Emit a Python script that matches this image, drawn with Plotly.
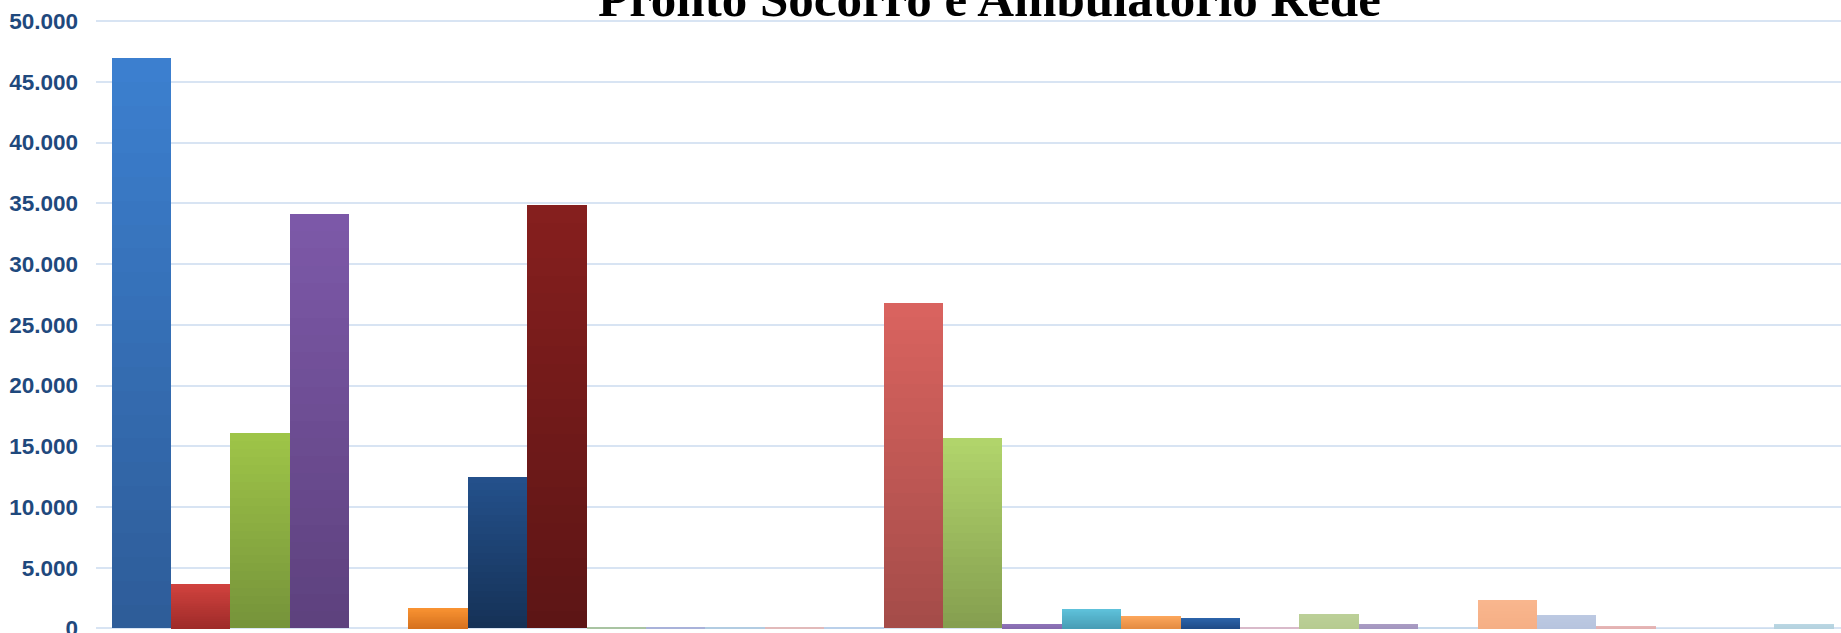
import plotly.graph_objects as go

# ---------------- data ----------------
series_names = [
    "Série 1", "Série 2", "Série 3", "Série 4", "Série 5", "Série 6", "Série 7",
    "Série 8", "Série 9", "Série 10", "Série 11", "Série 12", "Série 13", "Série 14",
    "Série 15", "Série 16", "Série 17", "Série 18", "Série 19", "Série 20", "Série 21",
    "Série 22", "Série 23", "Série 24", "Série 25", "Série 26", "Série 27", "Série 28",
    "Série 29",
]
series_values = [
    46950, 3650, 16100, 34130, 0, 1670, 12480, 34850, 60, 60,
    60, 60, 60, 26790, 15670, 350, 1590, 1010, 850, 40,
    1180, 350, 40, 2330, 1090, 190, 30, 30, 350,
]
y_tick_values = [0, 5000, 10000, 15000, 20000, 25000, 30000, 35000, 40000, 45000, 50000]
title_text = "Pronto Socorro e Ambulatório Rede"

# ---------------- styles ----------------
top_colors = [
    "#3C80D0", "#D1423E", "#9FC548", "#7D59A9", "#4BACC6", "#F99332", "#24518C",
    "#861F1E", "#A9C4A2", "#A9B2DA", "#B2CCE2", "#E2BABA", "#BAD0EA", "#DA635F",
    "#B2D56C", "#8F74B9", "#5EC2DB", "#FDA75C", "#2C63AA", "#D9BACA", "#BCD098",
    "#AA9CC4", "#C6DAEC", "#F9B68E", "#BCC9E2", "#E6B7B7", "#CDDDEE", "#CDDDEE",
    "#BAD7E3",
]
bottom_colors = [
    "#2E5C98", "#9E2B29", "#75933A", "#5D417D", "#3D8AA0", "#D6711E", "#153156",
    "#5C1515", "#A9C4A2", "#A9B2DA", "#B2CCE2", "#E2BABA", "#BAD0EA", "#A44C49",
    "#849E4F", "#856BAE", "#489DB5", "#E58C42", "#1F4C88", "#D9BACA", "#B6CB90",
    "#A396BF", "#C6DAEC", "#F5AF85", "#B7C4DE", "#E3B2B2", "#CDDDEE", "#CDDDEE",
    "#B5D2DF",
]


def hex_to_rgb(h):
    h = h.lstrip("#")
    return tuple(int(h[i:i + 2], 16) for i in (0, 2, 4))


def mix(c1, c2, t):
    a, b = hex_to_rgb(c1), hex_to_rgb(c2)
    return "rgb(%d,%d,%d)" % tuple(round(a[i] + (b[i] - a[i]) * t) for i in range(3))


fig = go.Figure()
x_pos = list(range(len(series_values)))
N_BANDS = 24
for k in range(N_BANDS):
    frac = 1 - k / N_BANDS
    t = (k + 0.5) / N_BANDS
    colors = [mix(tc, bc, t) for tc, bc in zip(top_colors, bottom_colors)]
    fig.add_trace(go.Bar(
        x=x_pos,
        y=[v * frac for v in series_values],
        width=1,
        marker=dict(color=colors, line=dict(width=0)),
        name="",
        text=series_names if k == 0 else None,
        textposition="none",
        hoverinfo="text+y" if k == 0 else "skip",
        showlegend=False,
    ))

fig.add_annotation(
    text="<b>" + title_text + "</b>",
    xref="paper", yref="paper",
    x=0.5123, y=0.968,
    xanchor="center", yanchor="bottom",
    showarrow=False,
    font=dict(family="Liberation Serif, Times New Roman, serif", size=51, color="#000000"),
)

fig.update_layout(
    width=1841, height=633,
    margin=dict(l=96, r=0, t=9, b=0, autoexpand=False),
    paper_bgcolor="#FFFFFF",
    plot_bgcolor="#FFFFFF",
    barmode="overlay",
    bargap=0,
    separators=",.",
    showlegend=False,
    xaxis=dict(
        range=[-0.761, 28.62],
        showticklabels=False,
        showgrid=False,
        zeroline=False,
        showline=False,
        ticks="",
        automargin=False,
    ),
    yaxis=dict(
        range=[-375, 51000],
        tickvals=y_tick_values,
        tickformat=",.0f",
        showgrid=True,
        gridcolor="#D8E4F3",
        gridwidth=2,
        zeroline=False,
        showline=False,
        ticks="",
        automargin=False,
        ticklabelstandoff=17,
        ticklabeloverflow="allow",
        tickfont=dict(family="Liberation Sans, Arial, sans-serif", size=22.5,
                      color="#1F497D", weight="bold"),
    ),
)

fig.write_html(
    "out.html",
    config={"displayModeBar": False},
    post_script="document.body.style.margin='0';document.body.style.overflow='hidden';",
)
